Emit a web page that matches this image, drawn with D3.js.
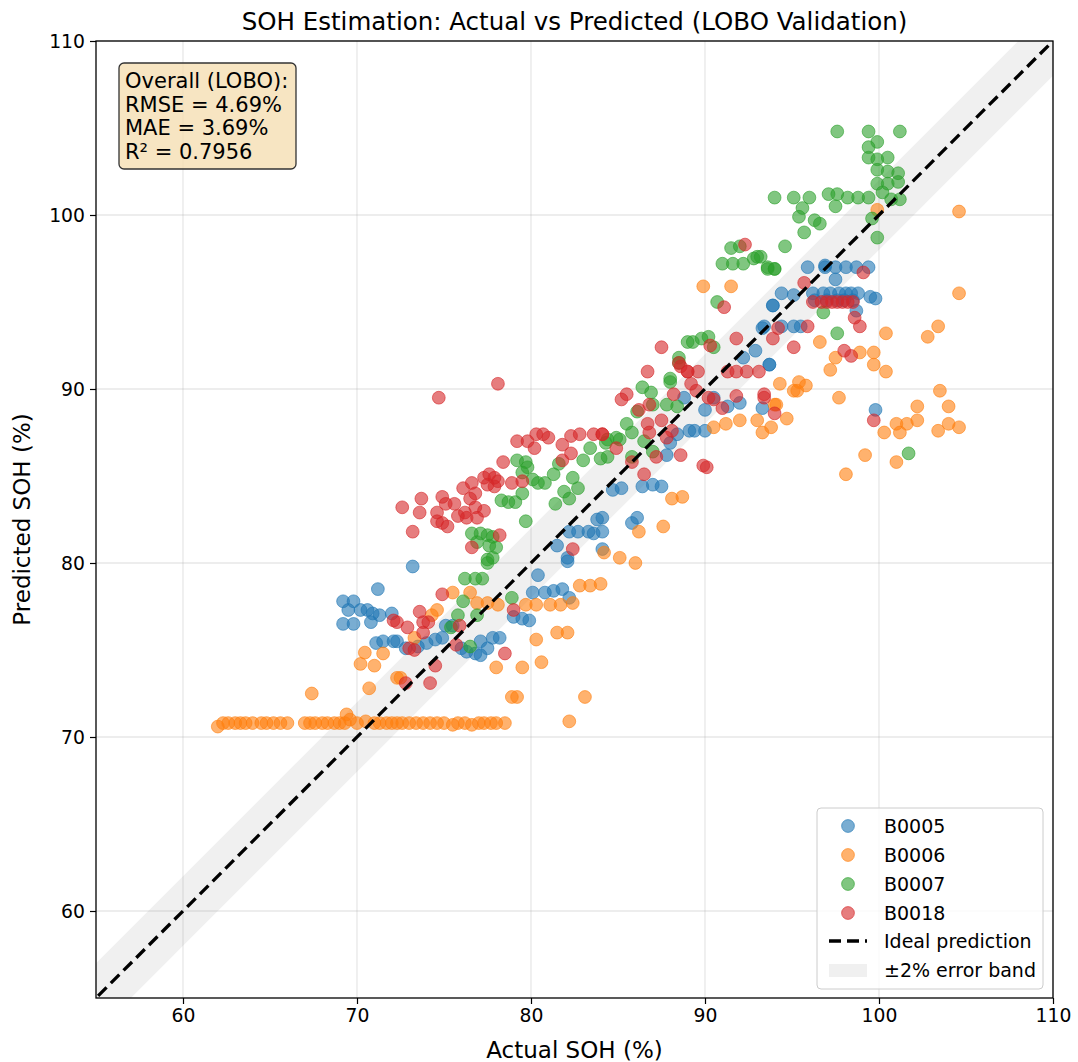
<!DOCTYPE html>
<html>
<head>
<meta charset="utf-8">
<script src="https://cdn.jsdelivr.net/npm/d3@7"></script>
<style>
  body { margin: 0; background: #fff; }
  text { font-family: "DejaVu Sans", sans-serif; fill: #000; }
</style>
</head>
<body>
<div id="chart"></div>
<script>
// [actual, predicted] pairs per battery
const b0005 = [
  [71.2,78.5],[69.2,77.8],[69.8,77.8],[69.5,77.3],[70.2,77.3],[70.6,77.3],[70.9,77.1],[71.3,77.0],[70.8,76.6],[69.2,76.5],
  [69.8,76.5],[72.0,77.1],[71.1,75.4],[71.5,75.5],[72.1,75.5],[73.2,79.8],[72.3,75.5],[72.8,75.1],[73.5,75.2],[74.0,75.4],
  [74.5,75.6],[74.9,75.7],[75.1,76.4],[75.5,76.4],[76.0,75.1],[76.3,74.9],[76.8,74.8],[77.1,74.7],[77.5,75.1],[77.1,75.5],
  [77.8,75.7],[78.2,75.7],[80.4,79.3],[80.1,78.3],[80.8,78.3],[81.3,78.4],[81.8,78.5],[82.2,78.0],[79.0,76.9],[79.5,76.8],
  [79.9,76.7],[82.1,80.1],[83.8,82.5],[82.2,81.8],[82.7,81.8],[83.3,81.8],[83.6,81.7],[84.1,81.8],[81.5,81.0],[82.1,80.3],
  [84.7,84.2],[85.2,84.3],[86.4,84.4],[87.0,84.5],[87.5,84.4],[84.1,82.6],[86.1,82.6],[85.8,82.3],[87.8,86.2],[88.4,87.4],
  [88.0,86.9],[89.1,87.6],[89.4,87.6],[90.0,87.6],[88.8,89.5],[90.0,88.8],[90.5,89.5],[91.3,89.0],[92.0,89.2],[93.3,88.9],
  [93.7,91.4],[84.1,80.8],[93.9,94.8],[93.3,93.5],[92.9,92.2],[92.2,91.8],[93.7,91.4],
  [95.9,97.0],[96.9,97.0],[97.5,97.0],[98.1,97.0],[98.7,97.0],[99.4,97.0],[97.5,96.3],[96.9,97.1],
  [96.2,95.5],[96.8,95.5],[97.2,95.5],[97.7,95.5],[98.1,95.5],[98.4,95.5],[98.8,95.5],[99.5,95.3],[99.8,95.2],
  [96.3,95.1],[97.0,95.1],[97.6,95.1],[98.0,95.1],[98.5,95.1],[94.4,95.5],[95.1,95.4],[93.9,94.8],[93.4,93.6],[94.4,93.6],
  [95.1,93.6],[95.5,93.6],[98.7,94.5],[99.8,88.8]
];
const b0006 = [
  [62.0,70.6],[62.3,70.8],[62.6,70.8],[63.0,70.8],[63.3,70.8],[63.6,70.8],[64.0,70.8],[64.5,70.8],[64.8,70.8],[65.2,70.8],
  [65.6,70.8],[66.0,70.8],[67.0,70.8],[67.3,70.8],[67.6,70.8],[68.0,70.8],[68.3,70.8],[68.7,70.8],[69.0,70.8],[69.3,70.8],
  [69.6,71.0],[70.0,70.8],[70.5,70.9],[71.0,70.8],[71.3,70.8],[71.7,70.8],[72.0,70.8],[72.3,70.8],[72.6,70.8],[73.0,70.8],
  [73.4,70.8],[73.8,70.8],[74.2,70.8],[74.6,70.8],[75.0,70.8],[75.5,70.7],[75.8,70.8],[76.2,70.8],[76.6,70.7],[77.0,70.8],
  [77.3,70.8],[77.7,70.8],[78.0,70.8],[78.5,70.8],
  [67.4,72.5],[69.4,71.3],[70.45,74.85],[70.2,74.2],[71.0,74.1],[71.5,74.8],[70.7,72.8],[72.3,73.4],
  [75.5,78.3],[76.5,78.3],[74.6,77.3],[74.3,77.0],[76.9,77.7],[77.5,77.7],[78.1,77.6],[79.7,77.6],[80.3,77.6],[81.1,77.6],
  [81.7,77.6],[82.4,77.7],[82.8,78.7],[83.4,78.7],[84.0,78.8],[73.3,75.7],[72.5,73.4],[80.3,75.6],[81.5,76.0],[82.1,76.0],
  [78.0,74.0],[79.5,74.0],[80.6,74.3],[78.9,72.3],[79.2,72.3],[83.1,72.3],[82.2,70.9],
  [94.3,90.3],[95.3,89.9],[94.0,89.1],[94.7,88.3],[93.0,88.2],[93.8,87.8],[93.3,87.5],[92.0,88.2],[91.2,88.0],[90.5,87.8],
  [88.1,83.7],[88.7,83.8],[87.6,82.1],[86.2,81.8],[85.1,80.3],[86.0,80.0],[84.2,80.6],
  [100.4,93.2],[96.6,92.7],[97.5,91.8],[98.9,92.1],[99.7,92.1],[99.7,91.4],[100.4,91.0],[97.2,91.1],[95.4,90.4],[95.8,90.2],
  [95.1,89.9],[97.7,89.5],[94.1,89.1],[100.3,87.5],[101.0,88.0],[101.2,87.5],[101.6,88.0],[102.2,89.0],[102.2,88.2],[99.2,86.2],
  [101.0,85.8],[98.1,85.1],[103.4,93.6],[102.8,93.0],[103.5,89.9],[104.0,89.0],[103.4,87.6],[104.0,88.0],[104.6,87.8],
  [104.6,100.2],[104.6,95.5],[99.9,100.3],[89.9,95.9],[91.5,95.9]
];
const b0007 = [
  [79.2,85.9],[79.7,85.8],[79.8,85.5],[79.5,85.2],[78.3,83.6],[78.7,83.5],[79.1,83.5],[79.5,84.0],[79.7,82.4],[80.1,84.8],
  [80.4,84.6],[80.8,84.6],[81.3,85.1],[81.6,85.7],[82.4,84.9],[81.9,84.1],[82.2,83.7],[82.7,84.3],[81.4,83.4],[83.0,85.9],
  [83.4,86.6],[84.0,86.0],[84.3,86.9],[76.6,81.7],[77.1,81.7],[77.5,81.6],[77.8,81.5],[76.9,81.2],[77.6,81.0],[78.0,80.9],
  [77.5,80.2],[77.8,80.3],[76.2,79.1],[76.8,79.1],[77.2,79.1],[77.5,80.0],[76.1,77.8],[75.8,77.0],[75.4,76.3],[76.9,77.0],
  [76.5,75.2],[78.9,78.0],
  [88.5,91.5],[88.0,90.4],[86.4,90.1],[86.9,89.8],[86.1,88.7],[87.0,89.1],[87.8,89.1],[88.4,89.0],[85.5,88.0],[84.9,87.2],
  [85.8,87.5],[84.4,87.1],[84.4,86.1],[85.1,87.1],[86.5,87.0],[87.0,86.4],[85.8,86.1],
  [91.5,98.1],[92.0,98.2],[91.0,97.2],[91.6,97.2],[92.2,97.2],[92.8,97.5],[93.0,97.6],[93.6,96.9],[94.0,96.9],[90.7,95.0],
  [89.0,92.7],[89.3,92.7],[89.8,92.9],[90.2,93.0],[90.5,92.4],[88.5,91.8],[88.0,90.6],
  [97.6,104.8],[99.4,104.8],[101.2,104.8],[99.4,103.9],[99.9,104.2],[99.4,103.3],[99.9,103.2],[100.5,103.3],[99.9,102.6],[100.5,102.5],
  [101.1,102.4],[99.9,101.8],[100.5,101.8],[101.1,101.9],[100.2,101.3],[100.7,100.9],[101.2,100.9],[94.0,101.0],[95.1,101.0],[96.0,101.0],
  [97.1,101.2],[97.6,101.2],[97.5,100.5],[98.2,101.0],[98.8,101.0],[99.4,101.0],[95.6,100.4],[95.4,99.9],[96.3,99.7],[96.6,99.5],
  [95.7,99.0],[99.6,99.8],[99.9,98.7],[94.6,98.2],[93.2,97.6],[93.6,97.0],[94.0,96.9],[96.8,94.4],[97.6,93.2],[101.7,86.3]
];
const b0018 = [
  [78.1,90.3],[74.7,89.5],[79.2,87.0],[79.8,87.0],[80.3,87.4],[80.7,87.4],[81.0,87.2],[80.2,86.6],[81.8,86.8],[82.3,87.3],
  [82.8,87.4],[82.3,86.3],[81.8,85.9],[83.6,87.4],[84.1,87.4],[78.4,85.8],[77.3,84.9],[77.6,85.1],[77.9,84.9],[78.1,84.7],
  [77.5,84.5],[77.9,84.4],[76.6,84.6],[76.1,84.3],[76.8,84.0],[76.5,83.7],[76.8,83.2],[78.9,84.6],[79.5,84.7],[74.9,83.8],
  [75.1,83.4],[75.6,83.4],[76.2,82.9],[75.8,82.7],[76.3,82.6],[76.9,82.6],[77.3,83.0],[73.7,83.7],[72.6,83.2],[73.6,82.9],
  [74.6,82.9],[74.6,82.4],[74.9,82.3],[75.2,82.1],[73.2,81.8],[78.2,81.6],[76.6,80.9],[82.4,80.8],
  [74.9,78.2],[73.6,77.2],[72.3,76.6],[72.9,76.3],[73.8,76.6],[74.1,76.6],[73.8,76.0],[73.0,75.1],[73.3,75.0],[75.7,75.3],
  [75.9,76.4],[74.5,74.1],[72.8,73.1],[74.2,73.1],[78.5,74.8],[79.0,77.3],[72.1,76.7],
  [86.7,91.0],[85.5,89.7],[85.2,89.4],[86.2,88.8],[86.8,89.1],[86.7,88.0],[87.5,88.2],[88.2,89.7],[86.8,87.5],[87.8,87.2],
  [88.1,87.6],[84.1,87.4],[84.9,86.6],[87.2,86.1],[88.6,86.2],[85.8,85.8],[86.5,85.1],[89.9,85.6],[90.1,85.5],[88.6,91.3],
  [89.0,91.0],[89.6,91.0],[89.2,90.3],[89.5,89.9],[90.2,89.5],[90.5,89.4],[91.3,91.0],[91.8,91.0],[92.4,91.0],[93.1,91.0],
  [91.8,89.6],[91.0,88.9],[93.4,89.7],[94.0,88.6],
  [92.3,98.3],[91.1,94.7],[91.8,92.9],[93.9,92.9],[87.5,92.4],[88.5,91.5],[90.3,92.5],[89.0,91.0],
  [96.2,95.0],[96.7,95.0],[97.0,95.0],[97.3,95.0],[97.6,95.0],[97.9,95.0],[98.2,95.0],[98.5,95.0],[99.1,96.7],[95.7,96.1],
  [98.6,94.1],[98.9,93.6],[95.9,93.6],[94.2,93.5],[98.0,92.2],[98.4,91.9],[95.1,92.4],[93.4,89.5],[99.7,88.2]
];

const seriesNames = ["B0005", "B0006", "B0007", "B0018"];
const seriesColors = ["#1f77b4", "#ff7f0e", "#2ca02c", "#d62728"];
const seriesData = [b0005, b0006, b0007, b0018];
const statLines = ["Overall (LOBO):", "RMSE = 4.69%", "MAE = 3.69%", "R\u00b2 = 0.7956"];
const ticks = [60, 70, 80, 90, 100, 110];
const bandHalf = 2;

const W = 1078, H = 1062;
const m = { left: 96, right: 25, top: 41, bottom: 64 };

const svg = d3.select("#chart").append("svg")
  .attr("width", W).attr("height", H);

const x = d3.scaleLinear().domain([55, 110]).range([m.left, W - m.right]);
const y = d3.scaleLinear().domain([55, 110]).range([H - m.bottom, m.top]);

svg.append("defs").append("clipPath").attr("id", "clip")
  .append("rect")
  .attr("x", m.left).attr("y", m.top)
  .attr("width", x(110) - x(55)).attr("height", y(55) - y(110));

// grid
const grid = svg.append("g");
ticks.forEach(t => {
  grid.append("line")
    .attr("x1", x(t)).attr("x2", x(t)).attr("y1", y(55)).attr("y2", y(110))
    .attr("stroke", "#b0b0b0").attr("stroke-opacity", 0.3).attr("stroke-width", 1.3);
  grid.append("line")
    .attr("x1", x(55)).attr("x2", x(110)).attr("y1", y(t)).attr("y2", y(t))
    .attr("stroke", "#b0b0b0").attr("stroke-opacity", 0.3).attr("stroke-width", 1.3);
});

const plot = svg.append("g").attr("clip-path", "url(#clip)");

// error band
const lineX = [50, 115];
plot.append("path")
  .attr("d", d3.area()
    .x(d => x(d))
    .y0(d => y(d - bandHalf))
    .y1(d => y(d + bandHalf))(lineX))
  .attr("fill", "#808080").attr("fill-opacity", 0.12);

// scatter
seriesData.forEach((pts, i) => {
  plot.append("g").selectAll("circle")
    .data(pts)
    .join("circle")
      .attr("cx", d => x(d[0]))
      .attr("cy", d => y(d[1]))
      .attr("r", 6.4)
      .attr("fill", seriesColors[i]).attr("fill-opacity", 0.6)
      .attr("stroke", seriesColors[i]).attr("stroke-opacity", 0.6)
      .attr("stroke-width", 1);
});

// ideal line
plot.append("path")
  .attr("d", d3.line().x(d => x(d)).y(d => y(d))(lineX))
  .attr("stroke", "#000").attr("stroke-width", 3.3)
  .attr("stroke-dasharray", "12,6").attr("fill", "none");

// frame
svg.append("rect")
  .attr("x", m.left).attr("y", m.top)
  .attr("width", x(110) - x(55)).attr("height", y(55) - y(110))
  .attr("fill", "none").attr("stroke", "#000").attr("stroke-width", 1.3);

// axes
const xAxis = svg.append("g")
  .attr("transform", `translate(0,${y(55)})`)
  .call(d3.axisBottom(x).tickValues(ticks).tickSize(6).tickPadding(5));
const yAxis = svg.append("g")
  .attr("transform", `translate(${x(55)},0)`)
  .call(d3.axisLeft(y).tickValues(ticks).tickSize(6).tickPadding(5));
[xAxis, yAxis].forEach(a => {
  a.select(".domain").remove();
  a.selectAll("line").attr("stroke", "#000").attr("stroke-width", 1.2);
  a.selectAll("text").style("font-family", "DejaVu Sans").style("font-size", "18.8px").attr("fill", "#000");
});

svg.append("text")
  .attr("x", (x(55) + x(110)) / 2).attr("y", 30)
  .attr("text-anchor", "middle").style("font-size", "24.5px")
  .text("SOH Estimation: Actual vs Predicted (LOBO Validation)");
svg.append("text")
  .attr("x", (x(55) + x(110)) / 2).attr("y", 1058)
  .attr("text-anchor", "middle").style("font-size", "23px")
  .text("Actual SOH (%)");
svg.append("text")
  .attr("transform", `translate(30,${(y(55) + y(110)) / 2}) rotate(-90)`)
  .attr("text-anchor", "middle").style("font-size", "23px")
  .text("Predicted SOH (%)");

// stats box
const sb = svg.append("g");
sb.append("rect")
  .attr("x", 119).attr("y", 63).attr("width", 177).attr("height", 106).attr("rx", 5)
  .attr("fill", "#f5deb3").attr("fill-opacity", 0.8)
  .attr("stroke", "#333").attr("stroke-width", 1.3);
sb.selectAll("text").data(statLines).join("text")
  .attr("x", 125).attr("y", (d, i) => 88 + i * 23.5)
  .style("font-size", "21px")
  .text(d => d);

// legend
const lg = svg.append("g");
lg.append("rect")
  .attr("x", 817).attr("y", 808).attr("width", 226).attr("height", 181).attr("rx", 4)
  .attr("fill", "#fff").attr("fill-opacity", 0.8)
  .attr("stroke", "#ccc").attr("stroke-width", 1);
seriesNames.forEach((n, i) => {
  const cy = 826 + i * 29;
  lg.append("circle").attr("cx", 848).attr("cy", cy).attr("r", 6.4)
    .attr("fill", seriesColors[i]).attr("fill-opacity", 0.6)
    .attr("stroke", seriesColors[i]).attr("stroke-opacity", 0.6);
  lg.append("text").attr("x", 884).attr("y", cy + 7).style("font-size", "19px").text(n);
});
lg.append("line").attr("x1", 829).attr("x2", 867).attr("y1", 941).attr("y2", 941)
  .attr("stroke", "#000").attr("stroke-width", 3.3).attr("stroke-dasharray", "12,6");
lg.append("text").attr("x", 884).attr("y", 948).style("font-size", "19px").text("Ideal prediction");
lg.append("rect").attr("x", 829).attr("y", 964).attr("width", 38).attr("height", 13)
  .attr("fill", "#808080").attr("fill-opacity", 0.12);
lg.append("text").attr("x", 884).attr("y", 977).style("font-size", "19px").text("\u00b12% error band");
</script>
</body>
</html>
